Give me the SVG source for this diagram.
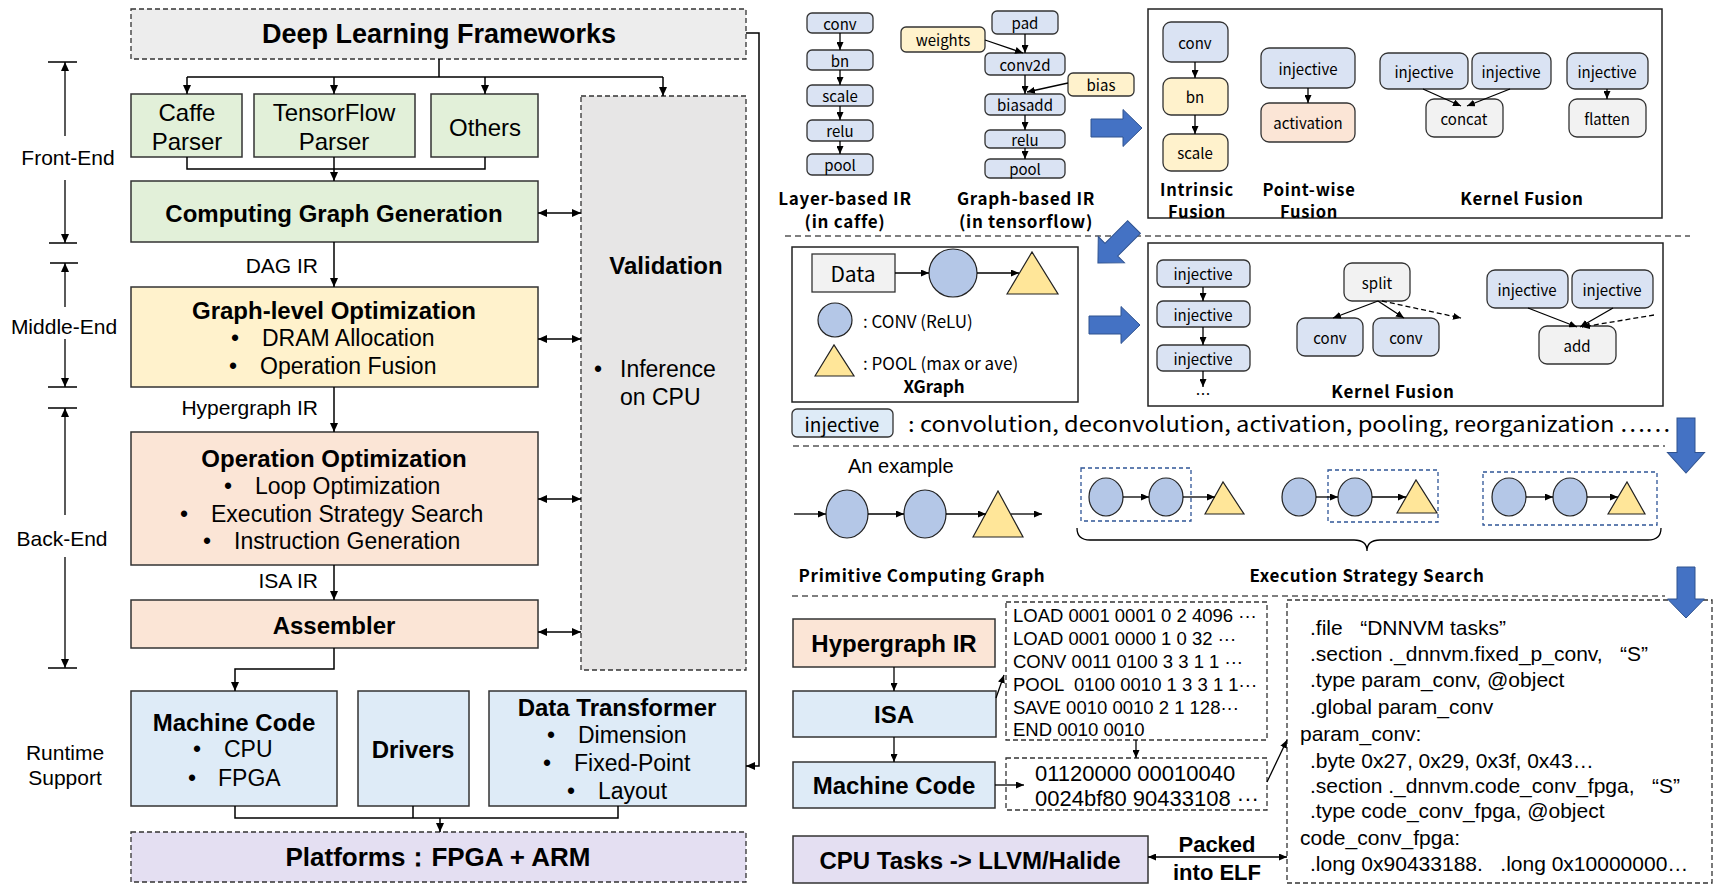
<svg xmlns="http://www.w3.org/2000/svg" width="1716" height="886" viewBox="0 0 1716 886">
<defs>
<marker id="a" markerWidth="9" markerHeight="8" refX="9" refY="4" orient="auto-start-reverse" markerUnits="userSpaceOnUse"><path d="M0,0 L9,4 L0,8 z" fill="#000"/></marker>
<marker id="s" markerWidth="8" markerHeight="7" refX="8" refY="3.5" orient="auto-start-reverse" markerUnits="userSpaceOnUse"><path d="M0,0 L8,3.5 L0,7 z" fill="#000"/></marker>
<path id="barrow" d="M0,-9 L32,-9 L32,-18.5 L51,0 L32,18.5 L32,9 L0,9 Z"/>
</defs>
<style>
.L{font-family:"Liberation Sans",Arial,sans-serif;fill:#000}
.C{font-family:"Noto Sans CJK SC","Noto Sans",sans-serif;fill:#000}
.b{font-weight:700}
.m{text-anchor:middle}
.ls{letter-spacing:0.7px}
.box{stroke:#333;stroke-width:1.5}
.dash{stroke:#333;stroke-width:1.3;stroke-dasharray:5 3}
.ln{stroke:#000;stroke-width:1.5;fill:none}
.sl{stroke:#000;stroke-width:1.3;fill:none}
.nd{fill:#dae3f3;stroke:#333;stroke-width:1.3}
.ny{fill:#fff2cc;stroke:#333;stroke-width:1.3}
.ng{fill:#f2f2f2;stroke:#333;stroke-width:1.3}
.np{fill:#fbe5d6;stroke:#333;stroke-width:1.3}
.sep{stroke:#555;stroke-width:1.5;stroke-dasharray:6 4;fill:none}
.cir{fill:#b4c7e7;stroke:#222;stroke-width:1.2}
.tri{fill:#ffe699;stroke:#222;stroke-width:1.2}
.ex{fill:none;stroke:#2f5597;stroke-width:1.3;stroke-dasharray:4 3}
.blue{fill:#4472c4;stroke:#2f528f;stroke-width:1}
.pre{white-space:pre}
</style>

<!-- LEFT PANEL -->
<g id="dlf"><rect x="131" y="9" width="615" height="50" fill="#ededed" class="dash"/><text x="439" y="34" class="L b m" font-size="27" dominant-baseline="central">Deep Learning Frameworks</text></g>
<g id="caffe"><rect x="131" y="94" width="111" height="63" fill="#e2f0d9" class="box"/><text x="187" y="112" class="L m" font-size="24" dominant-baseline="central">Caffe</text><text x="187" y="141" class="L m" font-size="24" dominant-baseline="central">Parser</text></g>
<g id="tf"><rect x="254" y="94" width="161" height="63" fill="#e2f0d9" class="box"/><text x="334" y="112" class="L m" font-size="24" dominant-baseline="central">TensorFlow</text><text x="334" y="141" class="L m" font-size="24" dominant-baseline="central">Parser</text></g>
<g id="others"><rect x="431" y="94" width="107" height="63" fill="#e2f0d9" class="box"/><text x="485" y="127" class="L m" font-size="24" dominant-baseline="central">Others</text></g>
<g id="cgg"><rect x="131" y="181" width="407" height="61" fill="#e2f0d9" class="box"/><text x="334" y="213" class="L b m" font-size="24" dominant-baseline="central">Computing Graph Generation</text></g>
<g id="validation"><rect x="581" y="96" width="165" height="574" fill="#e7e6e6" class="dash"/><text x="666" y="265" class="L b m" font-size="24" dominant-baseline="central">Validation</text><text x="594" y="369" class="L" font-size="23" dominant-baseline="central">•</text><text x="620" y="369" class="L" font-size="23" dominant-baseline="central">Inference</text><text x="620" y="397" class="L" font-size="23" dominant-baseline="central">on CPU</text></g>
<g id="glo"><rect x="131" y="287" width="407" height="100" fill="#fff2cc" class="box"/><text x="334" y="310" class="L b m" font-size="24" dominant-baseline="central">Graph-level Optimization</text><text x="235" y="338" class="L m" font-size="23" dominant-baseline="central">•</text><text x="262" y="338" class="L" font-size="23" dominant-baseline="central">DRAM Allocation</text><text x="233" y="366" class="L m" font-size="23" dominant-baseline="central">•</text><text x="260" y="366" class="L" font-size="23" dominant-baseline="central">Operation Fusion</text></g>
<g id="oo"><rect x="131" y="432" width="407" height="133" fill="#fbe5d6" class="box"/><text x="334" y="458" class="L b m" font-size="24" dominant-baseline="central">Operation Optimization</text><text x="228" y="486" class="L m" font-size="23" dominant-baseline="central">•</text><text x="255" y="486" class="L" font-size="23" dominant-baseline="central">Loop Optimization</text><text x="184" y="514" class="L m" font-size="23" dominant-baseline="central">•</text><text x="211" y="514" class="L" font-size="23" dominant-baseline="central">Execution Strategy Search</text><text x="207" y="541" class="L m" font-size="23" dominant-baseline="central">•</text><text x="234" y="541" class="L" font-size="23" dominant-baseline="central">Instruction Generation</text></g>
<g id="asm"><rect x="131" y="600" width="407" height="48" fill="#fbe5d6" class="box"/><text x="334" y="625" class="L b m" font-size="24" dominant-baseline="central">Assembler</text></g>
<g id="mc"><rect x="131" y="691" width="206" height="115" fill="#deebf7" class="box"/><text x="234" y="722" class="L b m" font-size="24" dominant-baseline="central">Machine Code</text><text x="197" y="749" class="L m" font-size="23" dominant-baseline="central">•</text><text x="224" y="749" class="L" font-size="23" dominant-baseline="central">CPU</text><text x="192" y="778" class="L m" font-size="23" dominant-baseline="central">•</text><text x="218" y="778" class="L" font-size="23" dominant-baseline="central">FPGA</text></g>
<g id="drivers"><rect x="358" y="691" width="111" height="115" fill="#deebf7" class="box"/><text x="413" y="749" class="L b m" font-size="24" dominant-baseline="central">Drivers</text></g>
<g id="dt"><rect x="489" y="691" width="257" height="115" fill="#deebf7" class="box"/><text x="617" y="707" class="L b m" font-size="24" dominant-baseline="central">Data Transformer</text><text x="551" y="735" class="L m" font-size="23" dominant-baseline="central">•</text><text x="578" y="735" class="L" font-size="23" dominant-baseline="central">Dimension</text><text x="547" y="763" class="L m" font-size="23" dominant-baseline="central">•</text><text x="574" y="763" class="L" font-size="23" dominant-baseline="central">Fixed-Point</text><text x="571" y="791" class="L m" font-size="23" dominant-baseline="central">•</text><text x="598" y="791" class="L" font-size="23" dominant-baseline="central">Layout</text></g>
<g id="platforms"><rect x="131" y="832" width="615" height="50" fill="#e4dff2" class="dash"/><text x="438" y="857" class="L b m" font-size="26" dominant-baseline="central">Platforms：FPGA + ARM</text></g>

<g id="stages">
<text x="68" y="157" class="L m" font-size="21" dominant-baseline="central">Front-End</text>
<text x="64" y="326" class="L m" font-size="21" dominant-baseline="central">Middle-End</text>
<text x="62" y="538" class="L m" font-size="21" dominant-baseline="central">Back-End</text>
<text x="65" y="752" class="L m" font-size="21" dominant-baseline="central">Runtime</text>
<text x="65" y="777" class="L m" font-size="21" dominant-baseline="central">Support</text>
<text x="318" y="265" class="L" font-size="21" text-anchor="end" dominant-baseline="central">DAG IR</text>
<text x="318" y="407" class="L" font-size="21" text-anchor="end" dominant-baseline="central">Hypergraph IR</text>
<text x="318" y="580" class="L" font-size="21" text-anchor="end" dominant-baseline="central">ISA IR</text>
</g>

<g id="connectors-left">
<path class="ln" d="M48,62 H77 M49,243 H77 M50,263 H78 M48,387 H77 M48,408 H77 M48,668 H77"/>
<path class="sl" d="M65,136 V62" marker-end="url(#a)"/>
<path class="sl" d="M65,180 V243" marker-end="url(#a)"/>
<path class="sl" d="M65,307 V263" marker-end="url(#a)"/>
<path class="sl" d="M65,339 V387" marker-end="url(#a)"/>
<path class="sl" d="M65,515 V408" marker-end="url(#a)"/>
<path class="sl" d="M65,557 V668" marker-end="url(#a)"/>
<path class="ln" d="M439,59 V77 M187,77 H663"/>
<path class="ln" d="M187,77 V94" marker-end="url(#a)"/>
<path class="ln" d="M334,77 V94" marker-end="url(#a)"/>
<path class="ln" d="M485,77 V94" marker-end="url(#a)"/>
<path class="ln" d="M663,77 V96" marker-end="url(#a)"/>
<path class="ln" d="M187,157 V169 H485 V157"/>
<path class="ln" d="M334,157 V181" marker-end="url(#a)"/>
<path class="ln" d="M538,213 H581" marker-start="url(#a)" marker-end="url(#a)"/>
<path class="ln" d="M334,242 V287" marker-end="url(#a)"/>
<path class="ln" d="M538,339 H581" marker-start="url(#a)" marker-end="url(#a)"/>
<path class="ln" d="M334,387 V432" marker-end="url(#a)"/>
<path class="ln" d="M538,499 H581" marker-start="url(#a)" marker-end="url(#a)"/>
<path class="ln" d="M334,565 V600" marker-end="url(#a)"/>
<path class="ln" d="M538,632 H581" marker-start="url(#a)" marker-end="url(#a)"/>
<path class="ln" d="M334,648 V669 H235 V691" marker-end="url(#a)"/>
<path class="ln" d="M746,33 H759 V766 H746" marker-end="url(#a)"/>
<path class="ln" d="M235,806 V818 H618 V806 M413,806 V818"/>
<path class="ln" d="M440,818 V832" marker-end="url(#a)"/>
</g>

<!-- RIGHT PANEL: row 1 -->
<g id="layer-ir">
<rect x="807" y="13" width="66" height="20" rx="5" class="nd"/><text x="840" y="23" class="C m" font-size="15" dominant-baseline="central">conv</text>
<rect x="807" y="50" width="66" height="20" rx="5" class="nd"/><text x="840" y="60" class="C m" font-size="15" dominant-baseline="central">bn</text>
<rect x="807" y="85" width="66" height="21" rx="5" class="nd"/><text x="840" y="95" class="C m" font-size="15" dominant-baseline="central">scale</text>
<rect x="807" y="120" width="66" height="21" rx="5" class="nd"/><text x="840" y="130" class="C m" font-size="15" dominant-baseline="central">relu</text>
<rect x="807" y="154" width="66" height="21" rx="5" class="nd"/><text x="840" y="164" class="C m" font-size="15" dominant-baseline="central">pool</text>
<text x="845" y="197" class="C b m ls" font-size="17" dominant-baseline="central">Layer-based IR</text>
<text x="845" y="220" class="C b m ls" font-size="17" dominant-baseline="central">(in caffe)</text>
</g>
<g id="graph-ir">
<rect x="992" y="11" width="66" height="23" rx="5" class="nd"/><text x="1025" y="22" class="C m" font-size="15" dominant-baseline="central">pad</text>
<rect x="901" y="27" width="84" height="25" rx="5" class="ny"/><text x="943" y="39" class="C m" font-size="15" dominant-baseline="central">weights</text>
<rect x="985" y="53" width="80" height="22" rx="5" class="nd"/><text x="1025" y="64" class="C m" font-size="15" dominant-baseline="central">conv2d</text>
<rect x="1068" y="73" width="66" height="23" rx="5" class="ny"/><text x="1101" y="84" class="C m" font-size="15" dominant-baseline="central">bias</text>
<rect x="985" y="94" width="80" height="21" rx="5" class="nd"/><text x="1025" y="104" class="C m" font-size="15" dominant-baseline="central">biasadd</text>
<rect x="985" y="130" width="80" height="18" rx="5" class="nd"/><text x="1025" y="139" class="C m" font-size="15" dominant-baseline="central">relu</text>
<rect x="985" y="159" width="80" height="19" rx="5" class="nd"/><text x="1025" y="168" class="C m" font-size="15" dominant-baseline="central">pool</text>
<text x="1026" y="197" class="C b m ls" font-size="17" dominant-baseline="central">Graph-based IR</text>
<text x="1026" y="220" class="C b m ls" font-size="17" dominant-baseline="central">(in tensorflow)</text>
</g>
<g id="fusion1">
<rect x="1148" y="9" width="514" height="209" fill="none" stroke="#222" stroke-width="1.5"/>
<rect x="1163" y="22" width="65" height="40" rx="8" class="nd"/><text x="1195" y="42" class="C m" font-size="15" dominant-baseline="central">conv</text>
<rect x="1163" y="78" width="65" height="37" rx="8" class="ny"/><text x="1195" y="96" class="C m" font-size="15" dominant-baseline="central">bn</text>
<rect x="1163" y="134" width="65" height="37" rx="8" class="ny"/><text x="1195" y="152" class="C m" font-size="15" dominant-baseline="central">scale</text>
<text x="1197" y="189" class="C b m ls" font-size="16.5" dominant-baseline="central">Intrinsic</text>
<text x="1197" y="211" class="C b m ls" font-size="16.5" dominant-baseline="central">Fusion</text>
<rect x="1261" y="48" width="94" height="40" rx="8" class="nd"/><text x="1308" y="68" class="C m" font-size="15" dominant-baseline="central">injective</text>
<rect x="1261" y="103" width="94" height="39" rx="8" class="np"/><text x="1308" y="122" class="C m" font-size="15" dominant-baseline="central">activation</text>
<text x="1309" y="189" class="C b m ls" font-size="16.5" dominant-baseline="central">Point-wise</text>
<text x="1309" y="211" class="C b m ls" font-size="16.5" dominant-baseline="central">Fusion</text>
<rect x="1380" y="53" width="88" height="36" rx="8" class="nd"/><text x="1424" y="71" class="C m" font-size="15" dominant-baseline="central">injective</text>
<rect x="1472" y="53" width="79" height="36" rx="8" class="nd"/><text x="1511" y="71" class="C m" font-size="15" dominant-baseline="central">injective</text>
<rect x="1426" y="99" width="77" height="38" rx="8" class="ng"/><text x="1464" y="118" class="C m" font-size="15" dominant-baseline="central">concat</text>
<rect x="1567" y="53" width="81" height="36" rx="8" class="nd"/><text x="1607" y="71" class="C m" font-size="15" dominant-baseline="central">injective</text>
<rect x="1569" y="99" width="77" height="38" rx="8" class="ng"/><text x="1607" y="118" class="C m" font-size="15" dominant-baseline="central">flatten</text>
<text x="1522" y="197" class="C b m ls" font-size="17" dominant-baseline="central">Kernel Fusion</text>
</g>

<!-- row 2 -->
<g id="xgraph">
<rect x="792" y="247" width="286" height="155" fill="none" stroke="#222" stroke-width="1.5"/>
<rect x="812" y="254" width="83" height="38" fill="#f2f2f2" stroke="#333" stroke-width="1.3"/><text x="853" y="273" class="C m" font-size="21" dominant-baseline="central">Data</text>
<circle cx="953" cy="273" r="24" class="cir"/>
<polygon points="1007,294 1032,252 1058,294" class="tri"/>
<circle cx="835" cy="320" r="17" class="cir"/>
<text x="863" y="320" class="C" font-size="17" dominant-baseline="central">: CONV (ReLU)</text>
<polygon points="815,376 834,345 854,376" class="tri"/>
<text x="863" y="362" class="C" font-size="17" dominant-baseline="central">: POOL (max or ave)</text>
<text x="934" y="385" class="C b m" font-size="17" dominant-baseline="central">XGraph</text>
</g>
<g id="fusion2">
<rect x="1148" y="243" width="515" height="163" fill="none" stroke="#222" stroke-width="1.5"/>
<rect x="1157" y="260" width="93" height="27" rx="6" class="nd"/><text x="1203" y="273" class="C m" font-size="15" dominant-baseline="central">injective</text>
<rect x="1157" y="301" width="93" height="26" rx="6" class="nd"/><text x="1203" y="314" class="C m" font-size="15" dominant-baseline="central">injective</text>
<rect x="1157" y="345" width="93" height="26" rx="6" class="nd"/><text x="1203" y="358" class="C m" font-size="15" dominant-baseline="central">injective</text>
<text x="1203" y="393" class="C m" font-size="15" dominant-baseline="central">…</text>
<rect x="1344" y="263" width="66" height="38" rx="8" class="ng"/><text x="1377" y="282" class="C m" font-size="15" dominant-baseline="central">split</text>
<rect x="1297" y="318" width="66" height="38" rx="8" class="nd"/><text x="1330" y="337" class="C m" font-size="15" dominant-baseline="central">conv</text>
<rect x="1373" y="318" width="66" height="38" rx="8" class="nd"/><text x="1406" y="337" class="C m" font-size="15" dominant-baseline="central">conv</text>
<rect x="1487" y="270" width="81" height="38" rx="8" class="nd"/><text x="1527" y="289" class="C m" font-size="15" dominant-baseline="central">injective</text>
<rect x="1572" y="270" width="81" height="38" rx="8" class="nd"/><text x="1612" y="289" class="C m" font-size="15" dominant-baseline="central">injective</text>
<rect x="1539" y="326" width="77" height="38" rx="8" class="ng"/><text x="1577" y="345" class="C m" font-size="15" dominant-baseline="central">add</text>
<text x="1393" y="390" class="C b m ls" font-size="17" dominant-baseline="central">Kernel Fusion</text>
</g>
<g id="legend">
<rect x="792" y="409" width="101" height="28" rx="5" fill="#deebf7" stroke="#333" stroke-width="1.3"/>
<text x="842" y="423" class="C m" font-size="19" dominant-baseline="central">injective</text>
<text x="908" y="423" class="C" font-size="21" dominant-baseline="central" textLength="762" lengthAdjust="spacingAndGlyphs">: convolution, deconvolution, activation, pooling, reorganization ……</text>
</g>

<!-- row 3 -->
<g id="example">
<text x="848" y="466" class="L" font-size="20" dominant-baseline="central">An example</text>
<ellipse cx="847" cy="514" rx="21" ry="24" class="cir"/>
<ellipse cx="925" cy="514" rx="21" ry="24" class="cir"/>
<polygon points="973,537 998,491 1023,537" class="tri"/>
<text x="922" y="574" class="C b m ls" font-size="17" dominant-baseline="central">Primitive Computing Graph</text>
</g>
<g id="strategy">
<rect x="1081" y="468" width="110" height="53" class="ex"/>
<ellipse cx="1106" cy="497" rx="17" ry="19" class="cir"/>
<ellipse cx="1166" cy="497" rx="17" ry="19" class="cir"/>
<polygon points="1205,514 1223,482 1244,514" class="tri"/>
<ellipse cx="1299" cy="497" rx="17" ry="19" class="cir"/>
<rect x="1328" y="470" width="110" height="52" class="ex"/>
<ellipse cx="1355" cy="497" rx="17" ry="19" class="cir"/>
<polygon points="1397,513 1416,480 1437,513" class="tri"/>
<rect x="1483" y="472" width="174" height="53" class="ex"/>
<ellipse cx="1509" cy="497" rx="17" ry="19" class="cir"/>
<ellipse cx="1570" cy="497" rx="17" ry="19" class="cir"/>
<polygon points="1608,514 1627,482 1645,514" class="tri"/>
<path d="M1077,528 Q1077,540 1090,540 L1354,540 Q1367,540 1367,551 Q1367,540 1380,540 L1648,540 Q1661,540 1661,528" fill="none" stroke="#000" stroke-width="1.3"/>
<text x="1367" y="574" class="C b m ls" font-size="17" dominant-baseline="central">Execution Strategy Search</text>
</g>

<!-- row 4 -->
<g id="hyper"><rect x="793" y="619" width="202" height="48" fill="#fbe5d6" class="box"/><text x="894" y="643" class="L b m" font-size="24" dominant-baseline="central">Hypergraph IR</text></g>
<g id="isa"><rect x="793" y="691" width="203" height="46" fill="#deebf7" class="box"/><text x="894" y="714" class="L b m" font-size="24" dominant-baseline="central">ISA</text></g>
<g id="mcode"><rect x="793" y="762" width="202" height="46" fill="#deebf7" class="box"/><text x="894" y="785" class="L b m" font-size="24" dominant-baseline="central">Machine Code</text></g>
<g id="cpu"><rect x="793" y="836" width="355" height="47" fill="#e4dff2" class="box"/><text x="970" y="860" class="L b m" font-size="24" dominant-baseline="central">CPU Tasks -&gt; LLVM/Halide</text></g>
<g id="isa-code">
<rect x="1006" y="602" width="261" height="138" fill="none" class="dash"/>
<text class="L pre" font-size="18.5" dominant-baseline="central">
<tspan x="1013" y="615">LOAD 0001 0001 0 2 4096 ···</tspan>
<tspan x="1013" y="638">LOAD 0001 0000 1 0 32 ···</tspan>
<tspan x="1013" y="661">CONV 0011 0100 3 3 1 1 ···</tspan>
<tspan x="1013" y="684">POOL  0100 0010 1 3 3 1 1···</tspan>
<tspan x="1013" y="707">SAVE 0010 0010 2 1 128···</tspan>
<tspan x="1013" y="729">END 0010 0010</tspan>
</text>
</g>
<g id="hex-code">
<rect x="1006" y="758" width="261" height="52" fill="none" class="dash"/>
<text class="L" font-size="22" dominant-baseline="central"><tspan x="1035" y="773">01120000 00010040</tspan><tspan x="1035" y="798">0024bf80 90433108 ···</tspan></text>
</g>
<g id="elf">
<rect x="1287" y="600" width="425" height="283" fill="none" class="dash"/>
<text class="L pre" font-size="21" dominant-baseline="central">
<tspan x="1310" y="627">.file   “DNNVM tasks”</tspan>
<tspan x="1310" y="653">.section ._dnnvm.fixed_p_conv,   “S”</tspan>
<tspan x="1310" y="679">.type param_conv, @object</tspan>
<tspan x="1310" y="706">.global param_conv</tspan>
<tspan x="1300" y="733">param_conv:</tspan>
<tspan x="1310" y="760">.byte 0x27, 0x29, 0x3f, 0x43…</tspan>
<tspan x="1310" y="785">.section ._dnnvm.code_conv_fpga,   “S”</tspan>
<tspan x="1310" y="810">.type code_conv_fpga, @object</tspan>
<tspan x="1300" y="837">code_conv_fpga:</tspan>
<tspan x="1310" y="863">.long 0x90433188.   .long 0x10000000…</tspan>
</text>
<text x="1217" y="844" class="L b m" font-size="22" dominant-baseline="central">Packed</text>
<text x="1217" y="872" class="L b m" font-size="22" dominant-baseline="central">into ELF</text>
</g>

<g id="separators">
<path class="sep" d="M785,236 H1690 M793,446 H1665 M792,596 H1665"/>
</g>

<g id="blue-arrows">
<use href="#barrow" class="blue" transform="translate(1091,128)"/>
<use href="#barrow" class="blue" transform="translate(1134,227) rotate(135)"/>
<use href="#barrow" class="blue" transform="translate(1089,325)"/>
<use href="#barrow" class="blue" transform="translate(1686,418) rotate(90) scale(1.08,1)"/>
<use href="#barrow" class="blue" transform="translate(1686,567) rotate(90)"/>
</g>

<g id="connectors-right">
<path class="sl" d="M840,33 V50" marker-end="url(#s)"/>
<path class="sl" d="M840,70 V85" marker-end="url(#s)"/>
<path class="sl" d="M840,106 V120" marker-end="url(#s)"/>
<path class="sl" d="M840,141 V154" marker-end="url(#s)"/>
<path class="sl" d="M1025,34 V53" marker-end="url(#s)"/>
<path class="sl" d="M985,40 L1023,53" marker-end="url(#s)"/>
<path class="sl" d="M1025,75 V94" marker-end="url(#s)"/>
<path class="sl" d="M1068,83 L1027,92" marker-end="url(#s)"/>
<path class="sl" d="M1025,115 V130" marker-end="url(#s)"/>
<path class="sl" d="M1025,148 V159" marker-end="url(#s)"/>
<path class="sl" d="M1195,62 V78" marker-end="url(#s)"/>
<path class="sl" d="M1195,115 V134" marker-end="url(#s)"/>
<path class="sl" d="M1308,88 V103" marker-end="url(#s)"/>
<path class="sl" d="M1423,89 L1461,106" marker-end="url(#s)"/>
<path class="sl" d="M1510,89 L1467,106" marker-end="url(#s)"/>
<path class="sl" d="M1607,89 V99" marker-end="url(#s)"/>
<path class="sl" d="M895,273 H929" marker-end="url(#s)"/>
<path class="sl" d="M977,273 H1019" marker-end="url(#s)"/>
<path class="sl" d="M1203,287 V301" marker-end="url(#s)"/>
<path class="sl" d="M1203,327 V345" marker-end="url(#s)"/>
<path class="sl" d="M1203,371 V387" marker-end="url(#s)"/>
<path class="sl" d="M1378,301 L1333,318" marker-end="url(#s)"/>
<path class="sl" d="M1378,301 L1404,318" marker-end="url(#s)"/>
<path class="sl" d="M1382,301 L1461,318" stroke-dasharray="5 3" marker-end="url(#s)"/>
<path class="sl" d="M1528,308 L1577,327" marker-end="url(#s)"/>
<path class="sl" d="M1613,308 L1580,327" marker-end="url(#s)"/>
<path class="sl" d="M1654,315 L1582,327" stroke-dasharray="5 3" marker-end="url(#s)"/>
<path class="sl" d="M794,514 H826" marker-end="url(#s)"/>
<path class="sl" d="M868,514 H904" marker-end="url(#s)"/>
<path class="sl" d="M946,514 H986" marker-end="url(#s)"/>
<path class="sl" d="M1011,514 H1042" marker-end="url(#s)"/>
<path class="sl" d="M1123,497 H1149" marker-end="url(#s)"/>
<path class="sl" d="M1183,497 H1215" marker-end="url(#s)"/>
<path class="sl" d="M1316,497 H1338" marker-end="url(#s)"/>
<path class="sl" d="M1372,497 H1406" marker-end="url(#s)"/>
<path class="sl" d="M1526,497 H1553" marker-end="url(#s)"/>
<path class="sl" d="M1587,497 H1618" marker-end="url(#s)"/>
<path class="sl" d="M894,667 V691" marker-end="url(#s)"/>
<path class="sl" d="M894,737 V762" marker-end="url(#s)"/>
<path class="sl" d="M996,698 L1004,675" marker-end="url(#s)"/>
<path class="sl" d="M1136,740 V758" marker-end="url(#s)"/>
<path class="sl" d="M995,785 H1024" marker-end="url(#s)"/>
<path class="sl" d="M1267,782 L1287,740" marker-end="url(#s)"/>
<path class="sl" d="M1148,857 H1287" marker-start="url(#s)" marker-end="url(#s)"/>
</g>
</svg>
